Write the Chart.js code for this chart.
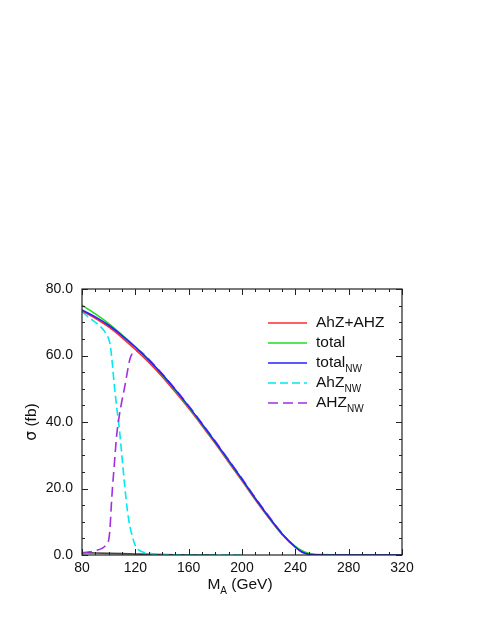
<!DOCTYPE html>
<html>
<head>
<meta charset="utf-8">
<script src="https://cdn.jsdelivr.net/npm/chart.js@4.4.1/dist/chart.umd.min.js"></script>
<style>
  html, body { margin: 0; padding: 0; background: #fff; }
  #wrap { width: 485px; height: 627px; }
</style>
</head>
<body>
<div id="wrap"><canvas id="sigmaChart" width="485" height="627"></canvas></div>
<script>
// M_A grid for the full curves
const mA = [80, 90, 100, 110, 120, 130, 140, 150, 160, 170, 180, 190, 200, 210, 220, 230, 240, 245, 250, 255, 260, 270, 280, 300, 320];
const sigmaAhZAHZ = [73.4, 71.2, 68.6, 65.4, 61.8, 58.0, 53.7, 49.0, 44.1, 38.9, 33.5, 27.9, 22.3, 16.6, 11.2, 6.2, 2.3, 1.0, 0.3, 0.08, 0.03, 0.01, 0, 0, 0];
const sigmaTotal = [75.1, 72.5, 69.6, 66.2, 62.6, 58.6, 54.2, 49.5, 44.5, 39.2, 33.8, 28.2, 22.6, 16.9, 11.4, 6.4, 2.6, 1.3, 0.5, 0.2, 0.1, 0.05, 0.02, 0, 0];
const sigmaTotalNW = [73.7, 71.6, 69.1, 66.0, 62.5, 58.7, 54.4, 49.7, 44.7, 39.4, 34.0, 28.4, 22.8, 17.0, 11.5, 6.4, 2.4, 0.9, 0.2, 0.05, 0.02, 0, 0, 0, 0];

// narrow-width pieces, finer grid around the threshold
const mANW = [80, 85, 90, 95, 98, 100, 101, 102, 103, 104, 106, 108, 110, 112, 114, 116, 118, 120, 122, 125, 130, 140, 150, 170, 200];
const sigmaAhZNW = [73.2, 71.5, 70.0, 68.2, 66.6, 65.0, 63.5, 60.5, 56.5, 52.0, 44.5, 38.0, 29.5, 21.0, 13.5, 8.5, 5.2, 2.8, 1.7, 1.0, 0.5, 0.15, 0.05, 0, 0];

const mAAHZ = [80, 85, 90, 95, 98, 100, 101, 102, 103, 104, 106, 108, 110, 112, 114, 116, 118, 120, 122, 125, 130, 140, 150, 160, 170, 180, 190, 200, 210, 220, 230, 240, 245, 250, 255, 260, 280, 320];
const sigmaAHZNW = [0.6, 0.9, 1.3, 2.0, 3.0, 4.5, 8.0, 15.0, 21.0, 26.0, 36.0, 42.0, 46.5, 50.5, 55.0, 59.0, 60.8, 61.2, 61.6, 60.9, 58.9, 54.6, 49.9, 44.9, 39.6, 34.2, 28.6, 23.0, 17.2, 11.7, 6.5, 2.4, 0.9, 0.2, 0.05, 0.02, 0, 0];

// small contribution lying along the axis
const mAlow = [80, 90, 100, 110, 120, 130, 140, 150, 160, 180];
const sigmaLow = [0.7, 0.6, 0.5, 0.4, 0.3, 0.2, 0.12, 0.06, 0.02, 0];

const xTicks = [80, 120, 160, 200, 240, 280, 320];
const yTicks = [0, 20, 40, 60, 80];

const pts = (xs, ys) => xs.map((x, i) => ({ x: x, y: ys[i] }));
const FONT = "'Liberation Sans', Arial, Helvetica, sans-serif";

const legendItems = [
  { main: "AhZ+AHZ", sub: "", color: "#ff2a2a", dash: [] },
  { main: "total", sub: "", color: "#1edc1e", dash: [] },
  { main: "total", sub: "NW", color: "#2222ff", dash: [] },
  { main: "AhZ", sub: "NW", color: "#00e8f0", dash: [8, 4] },
  { main: "AHZ", sub: "NW", color: "#a030e0", dash: [10, 5] }
];

const framePlugin = {
  id: "frame",
  afterDatasetsDraw(chart) {
    const { ctx, chartArea: a, scales } = chart;
    ctx.save();
    ctx.strokeStyle = "#222";
    ctx.lineWidth = 1.2;
    ctx.setLineDash([]);
    ctx.strokeRect(a.left, a.top, a.right - a.left, a.bottom - a.top);
    ctx.lineWidth = 1;
    ctx.beginPath();
    for (let v = 80; v <= 320; v += 10) {
      const px = Math.round(scales.x.getPixelForValue(v)) + 0.5;
      const len = v % 40 === 0 ? 6 : 3;
      ctx.moveTo(px, a.bottom); ctx.lineTo(px, a.bottom - len);
      ctx.moveTo(px, a.top); ctx.lineTo(px, a.top + len);
    }
    for (let v = 0; v <= 80; v += 5) {
      const py = Math.round(scales.y.getPixelForValue(v)) + 0.5;
      const len = v % 20 === 0 ? 6 : 3;
      ctx.moveTo(a.left, py); ctx.lineTo(a.left + len, py);
      ctx.moveTo(a.right, py); ctx.lineTo(a.right - len, py);
    }
    ctx.stroke();

    // legend
    ctx.textBaseline = "middle";
    ctx.textAlign = "left";
    legendItems.forEach((it, i) => {
      const y = 323 + i * 20;
      ctx.strokeStyle = it.color;
      ctx.lineWidth = 1.5;
      ctx.setLineDash(it.dash);
      ctx.beginPath();
      ctx.moveTo(268, y); ctx.lineTo(307, y);
      ctx.stroke();
      ctx.setLineDash([]);
      ctx.fillStyle = "#111";
      ctx.font = "15.5px " + FONT;
      ctx.fillText(it.main, 316, y);
      if (it.sub) {
        const w = ctx.measureText(it.main).width;
        ctx.font = "10px " + FONT;
        ctx.fillText(it.sub, 316 + w, y + 6);
      }
    });

    // x title: M_A (GeV)
    ctx.fillStyle = "#111";
    ctx.font = "15.5px " + FONT;
    const wM = ctx.measureText("M").width;
    const rest = " (GeV)";
    const wr = ctx.measureText(rest).width;
    ctx.font = "10px " + FONT;
    const wA = ctx.measureText("A").width;
    let x0 = 240 - (wM + wA + wr) / 2;
    ctx.font = "15.5px " + FONT;
    ctx.fillText("M", x0, 585);
    ctx.font = "10px " + FONT;
    ctx.fillText("A", x0 + wM, 591);
    ctx.font = "15.5px " + FONT;
    ctx.fillText(rest, x0 + wM + wA, 585);

    // y title: sigma (fb)
    ctx.save();
    ctx.translate(32, 422);
    ctx.rotate(-Math.PI / 2);
    ctx.font = "15.5px 'DejaVu Sans', sans-serif";
    const ws = ctx.measureText("\u03c3").width;
    ctx.font = "15.5px " + FONT;
    const wf = ctx.measureText(" (fb)").width;
    const s0 = -(ws + wf) / 2;
    ctx.font = "15.5px 'DejaVu Sans', sans-serif";
    ctx.fillText("\u03c3", s0, 0);
    ctx.font = "15.5px " + FONT;
    ctx.fillText(" (fb)", s0 + ws, 0);
    ctx.restore();
    ctx.restore();
  }
};

const ctx = document.getElementById("sigmaChart").getContext("2d");
new Chart(ctx, {
  type: "line",
  data: {
    datasets: [
      { label: "totalNW", data: pts(mA, sigmaTotalNW), borderColor: "#2222ff", order: 0 },
      { label: "total", data: pts(mA, sigmaTotal), borderColor: "#1edc1e", order: 1 },
      { label: "AhZ+AHZ", data: pts(mA, sigmaAhZAHZ), borderColor: "#ff2a2a", order: 2 },
      { label: "AHZNW", data: pts(mAAHZ, sigmaAHZNW), borderColor: "#a030e0", borderDash: [10, 5], order: 3 },
      { label: "AhZNW", data: pts(mANW, sigmaAhZNW), borderColor: "#00e8f0", borderDash: [8, 4], order: 4 },
      { label: "low", data: pts(mAlow, sigmaLow), borderColor: "#444", order: 5 }
    ]
  },
  options: {
    responsive: false,
    animation: false,
    layout: { padding: { left: 0, top: 289, right: 83, bottom: 0 } },
    elements: {
      point: { radius: 0 },
      line: { borderWidth: 1.6, fill: false, cubicInterpolationMode: "monotone" }
    },
    plugins: { legend: { display: false }, tooltip: { enabled: false } },
    scales: {
      x: {
        type: "linear",
        min: 80, max: 320,
        afterFit: (s) => { s.height = 72; },
        afterBuildTicks: (s) => { s.ticks = xTicks.map(v => ({ value: v })); },
        grid: { display: false, drawTicks: false },
        border: { display: false },
        ticks: { padding: 5, color: "#111", font: { size: 14, family: FONT } }
      },
      y: {
        min: 0, max: 80,
        afterFit: (s) => { s.width = 82; },
        afterBuildTicks: (s) => { s.ticks = yTicks.map(v => ({ value: v })); },
        grid: { display: false, drawTicks: false },
        border: { display: false },
        ticks: { padding: 9, color: "#111", font: { size: 14, family: FONT }, callback: (v) => v.toFixed(1) }
      }
    }
  },
  plugins: [framePlugin]
});
</script>
</body>
</html>
